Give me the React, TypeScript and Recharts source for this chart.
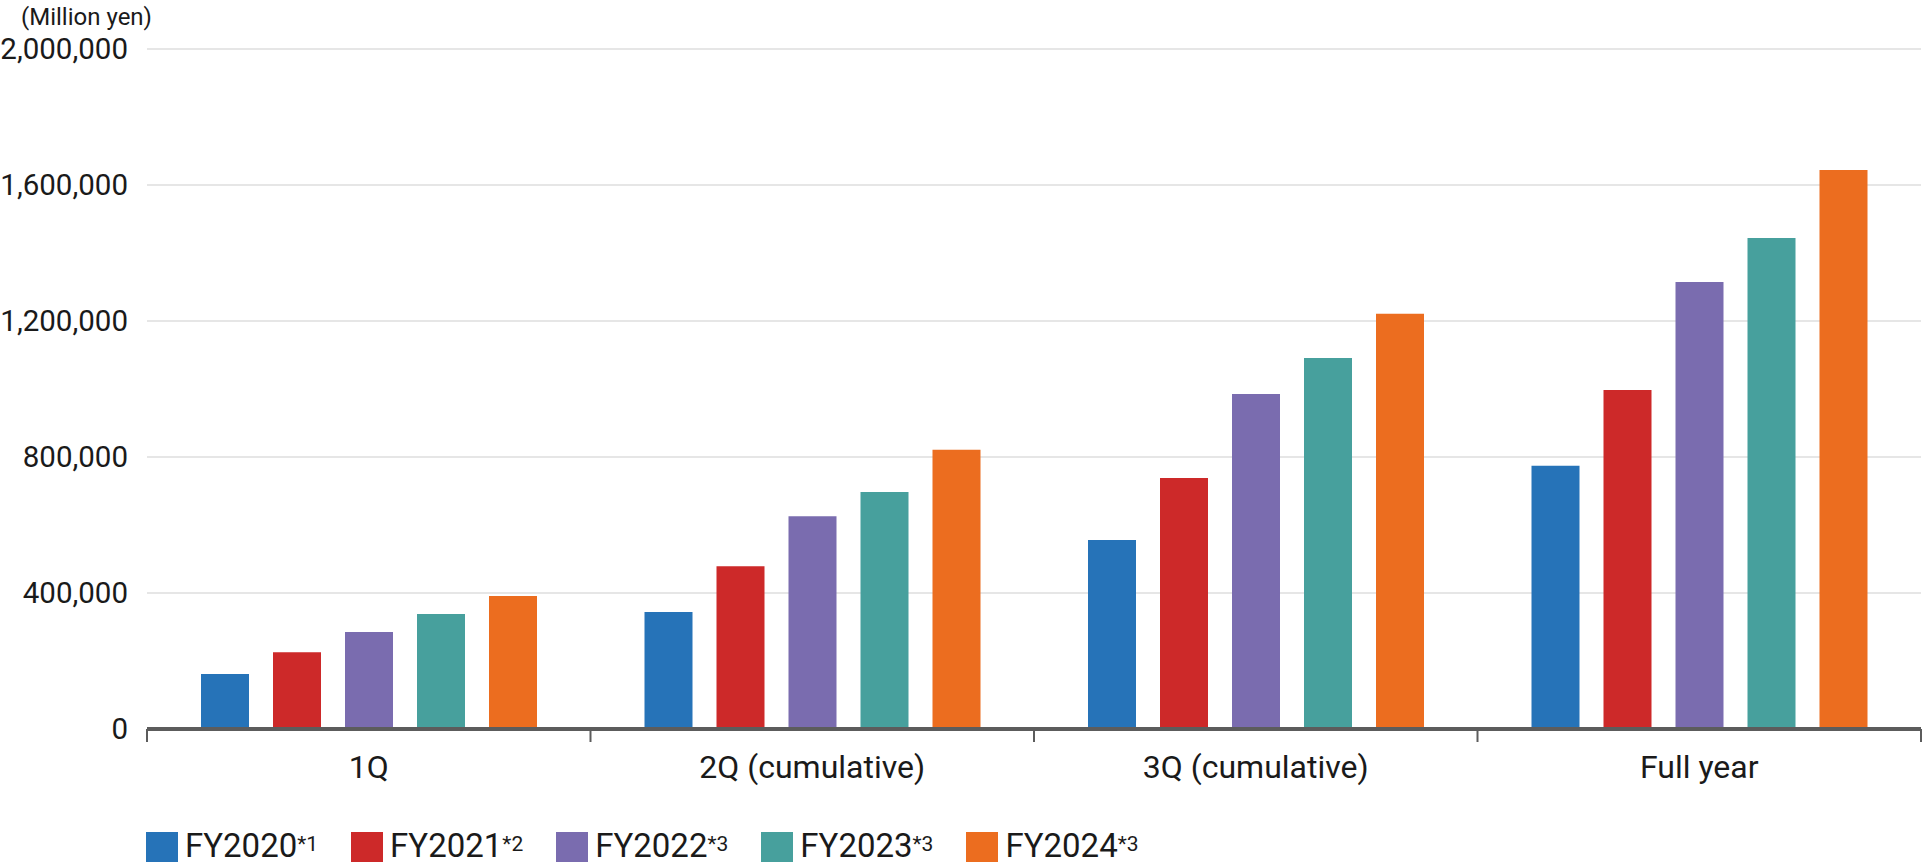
import React from 'react';
import { BarChart, Bar, XAxis, YAxis, CartesianGrid, Label } from 'recharts';

const categories = ['1Q', '2Q (cumulative)', '3Q (cumulative)', 'Full year'];
const fy2020 = [162000, 344000, 556000, 774000];
const fy2021 = [226000, 479000, 738000, 997000];
const fy2022 = [285000, 626000, 985000, 1315000];
const fy2023 = [338000, 697000, 1091000, 1444000];
const fy2024 = [391000, 821000, 1221000, 1644000];
const yTicks = [0, 400000, 800000, 1200000, 1600000, 2000000];
const seriesKeys = ['fy2020', 'fy2021', 'fy2022', 'fy2023', 'fy2024'];
const seriesNames = ['FY2020', 'FY2021', 'FY2022', 'FY2023', 'FY2024'];
const seriesNotes = ['*1', '*2', '*3', '*3', '*3'];
const seriesColors = ['#2673b8', '#cd2929', '#7a6caf', '#47a09d', '#ec6d1f'];
const unitLabel = '(Million yen)';

const seriesValues = [fy2020, fy2021, fy2022, fy2023, fy2024];
const data = categories.map((c, i) => {
  const row: Record<string, any> = { category: c };
  seriesKeys.forEach((k, j) => {
    row[k] = seriesValues[j][i];
  });
  return row;
});

const FONT = 'Roboto, "Noto Sans", sans-serif';
const AXIS_COLOR = '#5c5c5c';
const TEXT_COLOR = '#1a1a1a';

const CategoryTick = (props: any) => {
  const { x, y, payload, index, visibleTicksCount } = props;
  const half = payload && typeof payload.offset === 'number' ? payload.offset : 0;
  return (
    <g>
      <line x1={x - half} x2={x - half} y1={y} y2={y + 13} stroke={AXIS_COLOR} strokeWidth={2} />
      {index === visibleTicksCount - 1 && (
        <line x1={x + half} x2={x + half} y1={y} y2={y + 13} stroke={AXIS_COLOR} strokeWidth={2} />
      )}
      <text x={x} y={y} dy={49} textAnchor="middle" fontSize={32} fill={TEXT_COLOR} fontFamily={FONT}>
        {payload.value}
      </text>
    </g>
  );
};

export default function App() {
  return (
    <div style={{ position: 'absolute', left: 0, top: 0, width: 1922, height: 862, background: '#fff' }}>
      <BarChart
        width={1922}
        height={862}
        data={data}
        margin={{ top: 49, right: 1, left: 0, bottom: 73 }}
        barSize={48}
        barGap={24}
      >
        <CartesianGrid vertical={false} stroke="#dedede" strokeWidth={1.5} />
        <YAxis
          width={147}
          domain={[0, 2000000]}
          ticks={yTicks}
          axisLine={false}
          tickLine={false}
          tickSize={0}
          tickMargin={19}
          tick={{ fontSize: 29.5, fill: TEXT_COLOR, fontFamily: FONT }}
          tickFormatter={(v: number) => v.toLocaleString('en-US')}
        >
          <Label
            value={unitLabel}
            position="top"
            offset={24}
            dx={13}
            style={{ fontSize: 24, fill: TEXT_COLOR, fontFamily: FONT }}
          />
        </YAxis>
        <XAxis
          dataKey="category"
          height={60}
          interval={0}
          tickSize={0}
          tickMargin={0}
          axisLine={{ stroke: AXIS_COLOR, strokeWidth: 4 }}
          tickLine={false}
          tick={<CategoryTick />}
        />
        {seriesKeys.map((k, i) => (
          <Bar key={k} dataKey={k} name={seriesNames[i]} fill={seriesColors[i]} isAnimationActive={false} />
        ))}
      </BarChart>
      <div
        style={{
          position: 'absolute',
          left: 146,
          top: 830,
          display: 'flex',
          alignItems: 'center',
          fontFamily: FONT,
          fontSize: 33,
          color: TEXT_COLOR,
          lineHeight: '32px',
          whiteSpace: 'nowrap',
        }}
      >
        {seriesNames.map((n, i) => (
          <div key={n} style={{ display: 'flex', alignItems: 'center', marginRight: 33 }}>
            <span style={{ display: 'inline-block', width: 32, height: 32, background: seriesColors[i], marginRight: 7 }} />
            <span>
              {n}
              <span style={{ fontSize: 21, position: 'relative', top: -6 }}>{seriesNotes[i]}</span>
            </span>
          </div>
        ))}
      </div>
    </div>
  );
}
